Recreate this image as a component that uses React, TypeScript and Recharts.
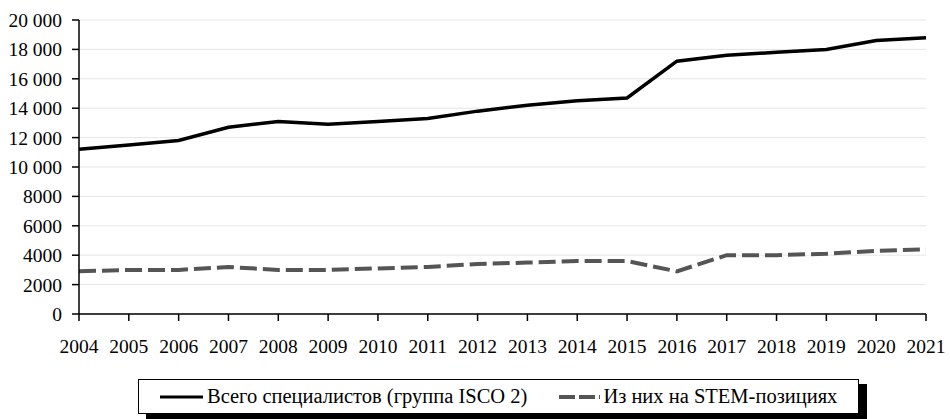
import React from 'react';
import { LineChart, Line, XAxis, YAxis, CartesianGrid, Legend } from 'recharts';

const years = ['2004','2005','2006','2007','2008','2009','2010','2011','2012','2013','2014','2015','2016','2017','2018','2019','2020','2021'];
const totalSpecialists = [11200,11500,11800,12700,13100,12900,13100,13300,13800,14200,14500,14700,17200,17600,17800,18000,18600,18800];
const stemPositions = [2900,3000,3000,3200,3000,3000,3100,3200,3400,3500,3600,3600,2900,4000,4000,4100,4300,4400];
const yTicks = [0,2000,4000,6000,8000,10000,12000,14000,16000,18000,20000];
const seriesNames = ['Всего специалистов (группа ISCO 2)', 'Из них на STEM-позициях'];

const data = years.map((y, i) => ({ year: y, total: totalSpecialists[i], stem: stemPositions[i] }));

const FONT = '"Liberation Serif", "Times New Roman", serif';

const fmt = (v: number) => (v >= 10000 ? String(v).replace(/\B(?=(\d{3})+(?!\d))/g, ' ') : String(v));

const LegendBox = () => (
  <div style={{ position: 'relative', width: 950, height: 40 }}>
    <div
      style={{
        position: 'absolute',
        left: 138,
        top: 0,
        display: 'flex',
        alignItems: 'center',
        boxSizing: 'border-box',
        width: 721,
        height: 35,
        border: '1px solid #000',
        boxShadow: '8px 5px 0 #000',
        paddingLeft: 21,
        fontFamily: FONT,
        fontSize: 20.5,
        color: '#000',
        background: '#fff',
        whiteSpace: 'nowrap',
      }}
    >
      <svg width={43} height={10} style={{ marginRight: 4, flex: 'none' }}>
        <line x1={0} y1={5} x2={43} y2={5} stroke="#000" strokeWidth={3} />
      </svg>
      <span style={{ marginRight: 32 }}>{seriesNames[0]}</span>
      <svg width={41} height={10} style={{ marginRight: 3, flex: 'none' }}>
        <line x1={0} y1={5} x2={41} y2={5} stroke="#555" strokeWidth={4} strokeDasharray="16 4" />
      </svg>
      <span>{seriesNames[1]}</span>
    </div>
  </div>
);

export default function App() {
  return (
    <div style={{ position: 'absolute', left: 0, top: 0, width: 950, height: 419, background: '#fff', fontFamily: FONT }}>
      <LineChart width={950} height={419} data={data} margin={{ top: 20, right: 24, bottom: 0, left: 0 }}>
        <CartesianGrid horizontal vertical={false} stroke="#e6e6e6" />
        <XAxis
          dataKey="year"
          tick={{ fill: '#000', fontSize: 19.5, fontFamily: FONT }}
          tickLine={{ stroke: '#000', strokeWidth: 1.5 }}
          axisLine={{ stroke: '#000', strokeWidth: 1.5 }}
          tickSize={7}
          tickMargin={18}
          interval={0}
          height={65}
        />
        <YAxis
          domain={[0, 20000]}
          ticks={yTicks}
          tickFormatter={fmt}
          tick={{ fill: '#000', fontSize: 19.5, fontFamily: FONT }}
          tickLine={{ stroke: '#000', strokeWidth: 1.5 }}
          axisLine={{ stroke: '#000', strokeWidth: 1.5 }}
          tickSize={7}
          tickMargin={10}
          width={79}
          interval={0}
        />
        <Legend
          verticalAlign="bottom"
          content={() => <LegendBox />}
          wrapperStyle={{ top: 379, bottom: 'auto', left: 0, width: 950, height: 40 }}
        />
        <Line type="linear" dataKey="total" stroke="#000" strokeWidth={3.5} dot={false} isAnimationActive={false} />
        <Line type="linear" dataKey="stem" stroke="#555" strokeWidth={4} strokeDasharray="17 6" dot={false} isAnimationActive={false} />
      </LineChart>
    </div>
  );
}
